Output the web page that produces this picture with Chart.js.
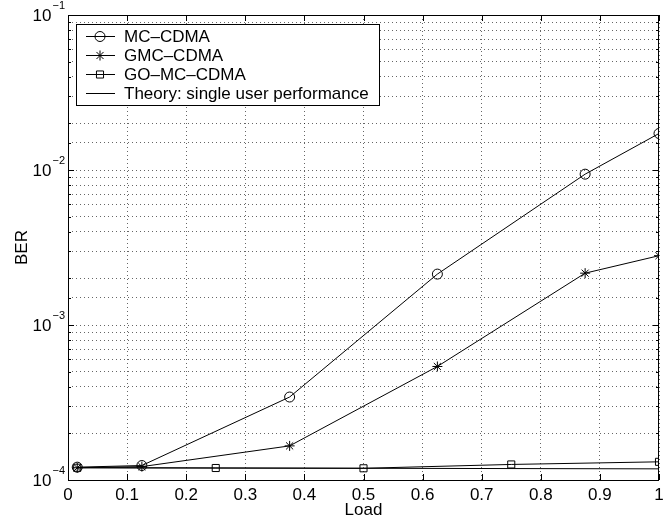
<!DOCTYPE html>
<html>
<head>
<meta charset="utf-8">
<script src="https://cdn.jsdelivr.net/npm/chart.js@4"></script>
<style>
  html, body { margin: 0; padding: 0; background: #fff; }
  #wrap { width: 671px; height: 521px; }
</style>
</head>
<body>
<div id="wrap"><canvas id="chart" width="671" height="521"></canvas></div>
<script>
// data
const loads = [0.015625, 0.125, 0.375, 0.625, 0.875, 1];
const mcBer = [1.21e-4, 1.24e-4, 3.43e-4, 2.13e-3, 9.4e-3, 1.72e-2];
const gmcBer = [1.2e-4, 1.22e-4, 1.66e-4, 5.4e-4, 2.16e-3, 2.8e-3];
const goLoads = [0.015625, 0.25, 0.5, 0.75, 1];
const goBer = [1.2e-4, 1.195e-4, 1.19e-4, 1.26e-4, 1.31e-4];
const theoryLoads = [0.015625, 1];
const theoryBer = [1.2e-4, 1.18e-4];
const xTicks = [0, 0.1, 0.2, 0.3, 0.4, 0.5, 0.6, 0.7, 0.8, 0.9, 1];
const yDecades = [-4, -3, -2, -1];

const FONT = "'Liberation Sans', Arial, Helvetica, sans-serif";

function pts(xs, ys) {
  return xs.map((x, i) => ({ x: x, y: ys[i] }));
}

function isDecade(v) {
  const l = Math.log10(v);
  return Math.abs(l - Math.round(l)) < 1e-6;
}

// frame, inward ticks, superscript y labels, legend inside the plot
const decor = {
  id: "decor",
  afterDatasetsDraw(chart) {
    const ctx = chart.ctx;
    const a = chart.chartArea;
    const xs = chart.scales.x, ys = chart.scales.y;
    ctx.save();
    ctx.strokeStyle = "#000";
    ctx.lineWidth = 1;
    ctx.setLineDash([]);
    ctx.strokeRect(a.left + 0.5, a.top + 0.5, a.right - a.left - 1, a.bottom - a.top);

    ctx.beginPath();
    xTicks.forEach(v => {
      const px = Math.round(xs.getPixelForValue(v)) + 0.5;
      ctx.moveTo(px, a.bottom); ctx.lineTo(px, a.bottom - 6);
      ctx.moveTo(px, a.top); ctx.lineTo(px, a.top + 6);
    });
    ys.ticks.forEach(t => {
      const py = Math.round(ys.getPixelForValue(t.value)) + 0.5;
      const len = isDecade(t.value) ? 6 : 3;
      ctx.moveTo(a.left, py); ctx.lineTo(a.left + len, py);
      ctx.moveTo(a.right, py); ctx.lineTo(a.right - len, py);
    });
    ctx.stroke();

    // y labels 10^k
    ctx.fillStyle = "#000";
    ctx.textBaseline = "alphabetic";
    yDecades.forEach(k => {
      const py = ys.getPixelForValue(Math.pow(10, k));
      const exp = "\u2212" + Math.abs(k);
      ctx.font = "11px " + FONT;
      const ew = ctx.measureText(exp).width;
      ctx.textAlign = "right";
      ctx.fillText(exp, a.left - 3, py - 6);
      ctx.font = "17px " + FONT;
      ctx.fillText("10", a.left - 4 - ew, py + 6);
    });

    // legend
    const lx = a.left + 8, ly = a.top + 9, lw = 303, lh = 81;
    ctx.fillStyle = "#fff";
    ctx.fillRect(lx, ly, lw, lh);
    ctx.strokeRect(lx + 0.5, ly + 0.5, lw, lh);
    chart.data.datasets.forEach((ds, i) => {
      const cy = ly + 12 + i * 19;
      ctx.beginPath();
      ctx.moveTo(lx + 10, cy + 0.5); ctx.lineTo(lx + 39, cy + 0.5);
      ctx.stroke();
      if (ds.pointRadius > 0) {
        ctx.fillStyle = "rgba(0,0,0,0)";
        Chart.helpers.drawPoint(ctx, {
          pointStyle: ds.pointStyle, radius: ds.pointRadius,
          rotation: 0, borderWidth: 1
        }, lx + 24, cy + 0.5);
      }
      ctx.fillStyle = "#000";
      ctx.font = "17px " + FONT;
      ctx.textAlign = "left";
      ctx.textBaseline = "middle";
      ctx.fillText(ds.label, lx + 48, cy + 1);
    });
    ctx.restore();
  }
};

const lineStyle = {
  showLine: true,
  borderColor: "#000",
  borderWidth: 1,
  backgroundColor: "rgba(0,0,0,0)",
  pointBorderColor: "#000",
  pointBorderWidth: 1,
  tension: 0
};

const gridOpts = { color: "rgba(0,0,0,0.6)", drawTicks: false };
const borderOpts = { display: false, dash: [1, 3] };

new Chart(document.getElementById("chart"), {
  type: "scatter",
  data: {
    datasets: [
      Object.assign({ label: "MC\u2013CDMA", data: pts(loads, mcBer), pointStyle: "circle", pointRadius: 5 }, lineStyle),
      Object.assign({ label: "GMC\u2013CDMA", data: pts(loads, gmcBer), pointStyle: "star", pointRadius: 5 }, lineStyle),
      Object.assign({ label: "GO\u2013MC\u2013CDMA", data: pts(goLoads, goBer), pointStyle: "rect", pointRadius: 5 }, lineStyle),
      Object.assign({ label: "Theory: single user performance", data: pts(theoryLoads, theoryBer), pointStyle: "circle", pointRadius: 0 }, lineStyle)
    ]
  },
  options: {
    responsive: false,
    animation: false,
    layout: { padding: { top: 15, right: 12, left: 0, bottom: 0 } },
    plugins: { legend: { display: false }, tooltip: { enabled: false } },
    scales: {
      x: {
        type: "linear",
        min: 0, max: 1,
        afterBuildTicks(scale) { scale.ticks = xTicks.map(v => ({ value: v })); },
        afterFit(scale) { scale.height = 41; },
        grid: gridOpts,
        border: borderOpts,
        ticks: {
          color: "#000",
          font: { family: FONT, size: 17 },
          padding: 5,
          maxRotation: 0,
          callback: v => String(Math.round(v * 10) / 10)
        },
        title: {
          display: true, text: "Load", color: "#000",
          font: { family: FONT, size: 17 },
          padding: { top: -4, bottom: 0 }
        }
      },
      y: {
        type: "logarithmic",
        min: 1e-4, max: 1e-1,
        afterFit(scale) { scale.width = 68; },
        grid: gridOpts,
        border: borderOpts,
        ticks: { display: false },
        title: {
          display: true, text: "BER", color: "#000",
          font: { family: FONT, size: 17 },
          padding: { top: 12, bottom: 0 }
        }
      }
    }
  },
  plugins: [decor]
});
</script>
</body>
</html>
